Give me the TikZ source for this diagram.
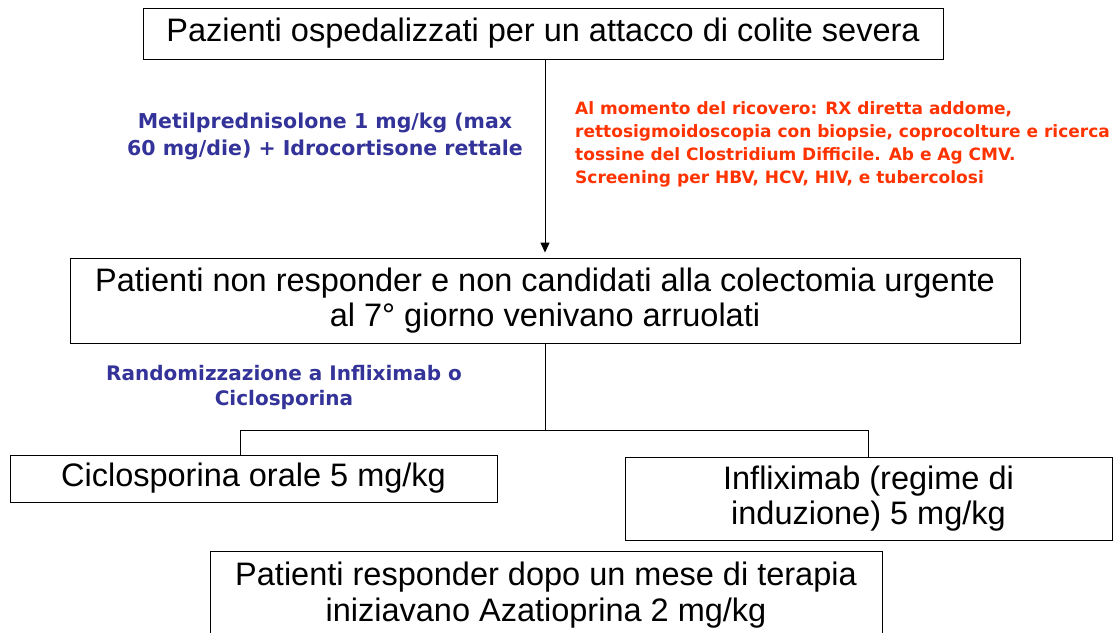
\documentclass[tikz,border=0pt]{standalone}
\usepackage{fontspec}
\setmainfont{Liberation Sans}
\newfontfamily\boxf{Liberation Sans}
\newfontfamily\notef{DejaVu Sans}
\usetikzlibrary{arrows.meta,shadows}
\definecolor{noteblue}{HTML}{333399}
\definecolor{notered}{HTML}{FF3300}
\tikzset{
  box/.style={draw=black, line width=0.9pt, fill=white, inner sep=0pt, align=center,
    font=\boxf\fontsize{32.5}{35.5}\selectfont,
    drop shadow={shadow xshift=1pt, shadow yshift=-1pt, fill=gray!70, opacity=1}},
  conn/.style={draw=black, line width=1pt},
  bluenote/.style={text=noteblue, align=center, font=\notef\bfseries\fontsize{20.5}{27}\selectfont},
  rednote/.style={text=notered, align=left, font=\notef\bfseries\fontsize{17}{23}\selectfont}
}
\begin{document}
\begin{tikzpicture}[x=1pt,y=-1pt]
\useasboundingbox (0,0) rectangle (1119,632);
\clip (0,0) rectangle (1119,632);
\fill[white] (0,0) rectangle (1119,632);
\node[box, minimum width=800pt, minimum height=51pt] (top) at (543,33.5) {Pazienti ospedalizzati per un attacco di colite severa};
\node[box, minimum width=950pt, minimum height=85pt] (mid) at (545,300.5) {Patienti non responder e non candidati alla colectomia urgente\\al 7° giorno venivano arruolati};
\node[box, minimum width=487pt, minimum height=47pt] (cic) at (253.5,478.5) {Ciclosporina orale 5 mg/kg};
\node[box, minimum width=487pt, minimum height=83pt] (inf) at (868.5,498.5) {Infliximab (regime di\\induzione) 5 mg/kg};
\node[box, minimum width=672pt, minimum height=88pt] (aza) at (546,595) {Patienti responder dopo un mese di terapia\\iniziavano Azatioprina 2 mg/kg};
\node[bluenote] (steroid) at (325,136) {Metilprednisolone 1 mg/kg (max\\60 mg/die) + Idrocortisone rettale};
\node[rednote, anchor=north west, inner sep=0pt] (exams) at (575,101) {Al momento del ricovero: RX diretta addome,\\rettosigmoidoscopia con biopsie, coprocolture e ricerca\\tossine del Clostridium Difficile. Ab e Ag CMV.\\Screening per HBV, HCV, HIV, e tubercolosi};
\node[bluenote, font=\notef\bfseries\fontsize{20}{25}\selectfont] (rand) at (284,387) {Randomizzazione a Infliximab o\\Ciclosporina};
\coordinate (jl) at (240,430);
\coordinate (jr) at (868,430);
\draw[conn, -{Triangle[length=10pt,width=9pt]}, shorten >=5pt] (mid.north |- top.south) -- (mid.north);
\draw[conn] (mid.south) -- (mid.south |- jl);
\draw[conn] (jl) -- (jr);
\draw[conn] (jl) -- (jl |- cic.north);
\draw[conn] (jr) -- (jr |- inf.north);
\end{tikzpicture}
\end{document}
